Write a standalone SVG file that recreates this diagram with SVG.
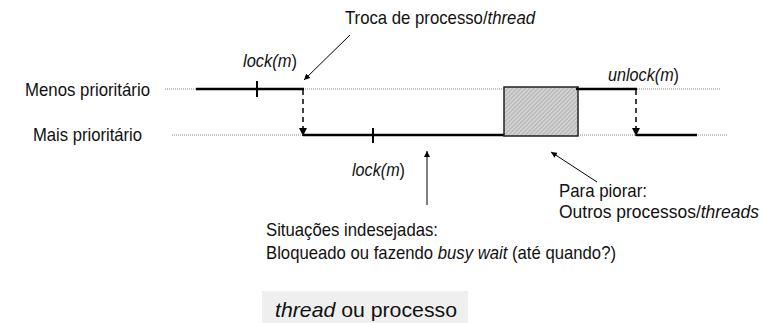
<svg xmlns="http://www.w3.org/2000/svg" width="769" height="323" viewBox="0 0 769 323">
<style>
  text { font-family: "Liberation Sans", Arial, sans-serif; fill: #111; }
  .lbl { font-size: 19px; }
  .it { font-style: italic; }
  .dot { stroke: #888; stroke-width: 1; stroke-dasharray: 1 1; fill: none; }
  .run { stroke: #000; stroke-width: 2.5; fill: none; }
  .tick { stroke: #000; stroke-width: 2; }
  .dash { stroke: #000; stroke-width: 1.5; stroke-dasharray: 5 4; fill: none; }
  .ann { stroke: #000; stroke-width: 1; fill: none; }
</style>
<defs>
  <marker id="ah" viewBox="0 0 10 10" refX="10" refY="5" markerWidth="6" markerHeight="6" markerUnits="userSpaceOnUse" orient="auto">
    <path d="M0,0 L10,5 L0,10 z" fill="#000"/>
  </marker>
  <marker id="ahs" viewBox="0 0 10 10" refX="10" refY="5" markerWidth="8" markerHeight="8" markerUnits="userSpaceOnUse" orient="auto">
    <path d="M0,0 L10,5 L0,10 z" fill="#000"/>
  </marker>
  <pattern id="hatch" patternUnits="userSpaceOnUse" width="3" height="3" patternTransform="rotate(45)">
    <rect width="3" height="3" fill="#bdbdbd"/>
    <line x1="0" y1="0" x2="0" y2="3" stroke="#f2f2f2" stroke-width="1.2"/>
  </pattern>
</defs>

<g id="lanes">
  <line class="dot" x1="165" y1="89" x2="720" y2="89"/>
  <line class="dot" x1="172" y1="135" x2="727" y2="135"/>
</g>

<g id="label-menos"><text class="lbl" x="25" y="96" textLength="125" lengthAdjust="spacingAndGlyphs">Menos prioritário</text></g>
<g id="label-mais"><text class="lbl" x="33" y="141" textLength="109" lengthAdjust="spacingAndGlyphs">Mais prioritário</text></g>

<g id="low-run-1">
  <line class="run" x1="196" y1="89" x2="304" y2="89"/>
  <line class="tick" x1="257" y1="81" x2="257" y2="97"/>
</g>
<g id="high-run">
  <line class="run" x1="303" y1="135" x2="505" y2="135"/>
  <line class="tick" x1="373" y1="128" x2="373" y2="143"/>
</g>
<g id="others-box">
  <rect x="504" y="87" width="74" height="49" fill="url(#hatch)" stroke="#222" stroke-width="1.5"/>
</g>
<g id="low-run-2">
  <line class="run" x1="576" y1="89" x2="637" y2="89"/>
</g>
<g id="high-run-2">
  <line class="run" x1="636" y1="135" x2="697" y2="135"/>
</g>

<g id="connectors">
  <line class="dash" x1="303" y1="90" x2="303" y2="136" marker-end="url(#ahs)"/>
  <line class="dash" x1="636" y1="90" x2="636" y2="136" marker-end="url(#ahs)"/>
  <line class="ann" x1="350" y1="35" x2="304" y2="80" marker-end="url(#ah)"/>
  <line class="ann" x1="427" y1="205" x2="427" y2="151" marker-end="url(#ah)"/>
  <line class="ann" x1="597" y1="182" x2="551" y2="152" marker-end="url(#ah)"/>
</g>

<g id="label-troca"><text class="lbl" x="345" y="24" textLength="190" lengthAdjust="spacingAndGlyphs">Troca de processo/<tspan class="it">thread</tspan></text></g>
<g id="label-lock1"><text class="lbl" x="243" y="67" textLength="54" lengthAdjust="spacingAndGlyphs"><tspan class="it">lock(m</tspan>)</text></g>
<g id="label-unlock"><text class="lbl" x="608" y="81" textLength="71" lengthAdjust="spacingAndGlyphs"><tspan class="it">unlock(m</tspan>)</text></g>
<g id="label-lock2"><text class="lbl" x="352" y="176" textLength="53" lengthAdjust="spacingAndGlyphs"><tspan class="it">lock(m</tspan>)</text></g>

<g id="label-piorar">
  <text class="lbl" x="559" y="197" textLength="88" lengthAdjust="spacingAndGlyphs">Para piorar:</text>
  <text class="lbl" x="559" y="218" textLength="200" lengthAdjust="spacingAndGlyphs">Outros processos/<tspan class="it">threads</tspan></text>
</g>
<g id="label-situacoes">
  <text class="lbl" x="266" y="236" textLength="172" lengthAdjust="spacingAndGlyphs">Situações indesejadas:</text>
  <text class="lbl" x="266" y="259" textLength="350" lengthAdjust="spacingAndGlyphs">Bloqueado ou fazendo <tspan class="it">busy wait</tspan> (até quando?)</text>
</g>

<g id="legend">
  <rect x="262" y="291" width="206" height="32" fill="#efefef"/>
  <text x="275" y="317" font-size="21" textLength="182" lengthAdjust="spacingAndGlyphs"><tspan class="it">thread</tspan> ou processo</text>
</g>
</svg>
